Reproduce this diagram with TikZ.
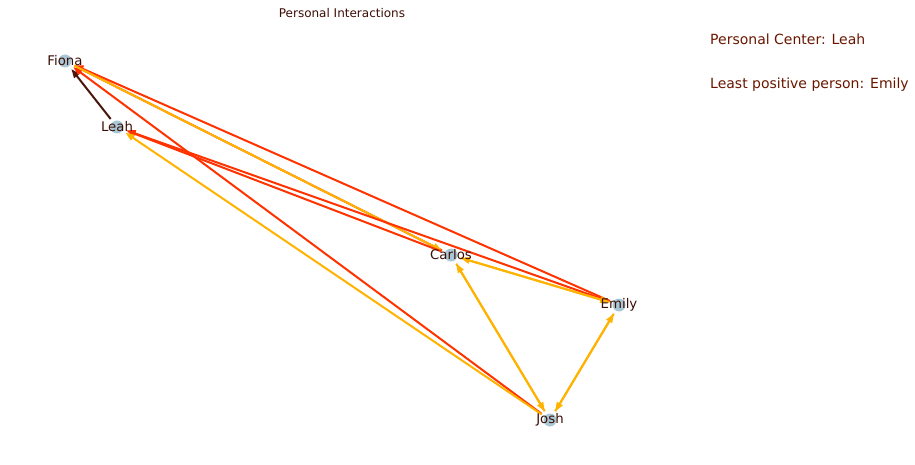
\documentclass[tikz,border=0pt]{standalone}
\usepackage{fontspec}
\setmainfont{DejaVu Sans}
\usetikzlibrary{arrows.meta}
\definecolor{edgered}{RGB}{255,51,0}
\definecolor{edgeyel}{RGB}{255,178,0}
\definecolor{edgedark}{RGB}{75,22,12}
\definecolor{txtdark}{RGB}{60,14,6}
\definecolor{txtred}{RGB}{105,22,0}
\definecolor{nodeblue}{RGB}{168,200,213}
\tikzset{
  vertex/.style={circle, minimum size=20pt, inner sep=0pt},
  dot/.style={fill=nodeblue},
  vlabel/.style={inner sep=0pt, text=txtdark, font=\fontsize{13.3}{15}\selectfont},
  edge/.style={line width=2pt, -{Triangle[length=9pt,width=6.5pt]}},
  redge/.style={edge, draw=edgered, fill=edgered},
  yedge/.style={edge, draw=edgeyel, fill=edgeyel},
  dedge/.style={edge, draw=edgedark, fill=edgedark},
  note/.style={anchor=base west, inner sep=0pt, text=txtred, font=\fontsize{14}{16}\selectfont},
}
\begin{document}
\begin{tikzpicture}[x=1pt,y=-1pt]
\useasboundingbox (0,0) rectangle (915,465);
% vertices
\node[vertex] (F) at (65,61) {};
\node[vertex] (L) at (117,127) {};
\node[vertex] (C) at (451,255) {};
\node[vertex] (E) at (619,305) {};
\node[vertex] (J) at (550,420) {};
\foreach \n in {F,L,C,E,J} \fill[dot] (\n) circle (6.5pt);
% edges
\draw[dedge] (L) -- (F);
\draw[redge] (E) -- (F);
\draw[redge] (J) -- (F);
\draw[redge] (C) -- (F);
\draw[yedge] (F) -- (C);
\draw[redge] (C) -- (L);
\draw[redge] (E) -- (L);
\draw[yedge] (J) -- (L);
\draw[yedge] (E) -- (C);
\draw[yedge] (C) -- (E);
\draw[yedge] (J) -- (C);
\draw[yedge] (C) -- (J);
\draw[yedge] (J) -- (E);
\draw[yedge] (E) -- (J);
% labels
\node[vlabel] (Fl) at (F) {Fiona};
\node[vlabel] (Ll) at (L) {Leah};
\node[vlabel] (Cl) at (C) {Carlos};
\node[vlabel] (El) at (E) {Emily};
\node[vlabel] (Jl) at (J) {Josh};
% title and notes
\node[anchor=base, inner sep=0pt, text=txtdark, font=\fontsize{12}{14}\selectfont] (title) at (342,17.5) {Personal Interactions};
\node[note] (n1) at (710,45) {Personal Center: Leah};
\node[note] (n2) at (710,89) {Least positive person: Emily};
\end{tikzpicture}
\end{document}
